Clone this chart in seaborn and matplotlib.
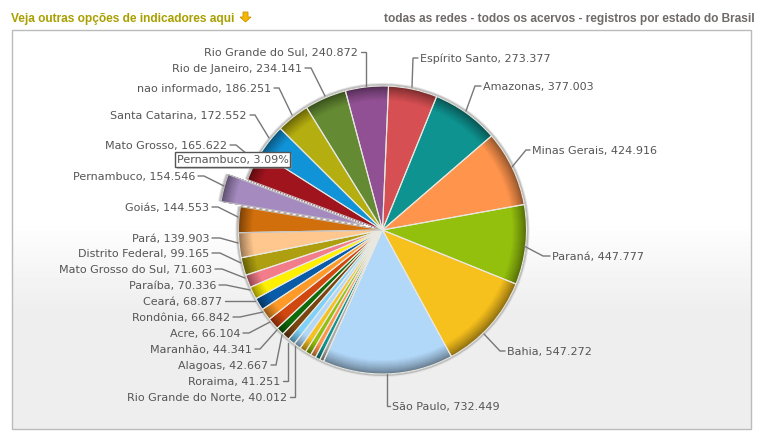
import numpy as np
import seaborn as sns
import matplotlib.pyplot as plt
from matplotlib.colors import to_rgb
from matplotlib.patches import Rectangle, Polygon

# Values, clockwise from the top
# the five thin unlabelled slices are estimates, their names are not in the picture
states = ['Espírito Santo', 'Amazonas', 'Minas Gerais', 'Paraná', 'Bahia', 'São Paulo',
          'sem rótulo 1', 'sem rótulo 2', 'sem rótulo 3', 'sem rótulo 4', 'sem rótulo 5',
          'Rio Grande do Norte', 'Roraima', 'Alagoas', 'Maranhão', 'Acre', 'Rondônia',
          'Ceará', 'Paraíba', 'Mato Grosso do Sul', 'Distrito Federal', 'Pará', 'Goiás',
          'Pernambuco', 'Mato Grosso', 'Santa Catarina', 'nao informado',
          'Rio de Janeiro', 'Rio Grande do Sul']
values = [273377, 377003, 424916, 447777, 547272, 732449,
          23000, 27000, 30000, 33000, 36000,
          40012, 41251, 42667, 44341, 66104, 66842,
          68877, 70336, 71603, 99165, 139903, 144553,
          154546, 165622, 172552, 186251, 234141, 240872]
value_texts = ['273.377', '377.003', '424.916', '447.777', '547.272', '732.449',
               None, None, None, None, None,
               '40.012', '41.251', '42.667', '44.341', '66.104', '66.842',
               '68.877', '70.336', '71.603', '99.165', '139.903', '144.553',
               '154.546', '165.622', '172.552', '186.251', '234.141', '240.872']
colors = ['#D64F52', '#0E9390', '#FF944D', '#93BF0D', '#F6C01D', '#B2D8F9',
          '#A8A8A8', '#0E9390', '#FF944D', '#93BF0D', '#F6C01D',
          '#B2D8F9', '#7CD2FA', '#7A4512', '#0F6B0A', '#D0470F', '#FF9A28',
          '#0B5CA8', '#FFF000', '#F37C8A', '#AE9F10', '#FFC78E', '#D16F0C',
          '#A58ABF', '#A0141E', '#1193D8', '#B5AE10', '#648B33', '#925094']

# Label layout in image pixels: text anchor, then the leader line
leaders = {
    'Espírito Santo': [(418, 59), (413, 59), (412, 88)],
    'Amazonas': [(481, 87), (475, 87), (466, 112)],
    'Minas Gerais': [(530, 151), (526, 151), (512, 168)],
    'Paraná': [(550, 257), (543, 257), (524, 247)],
    'Bahia': [(505, 352), (500, 352), (484, 335)],
    'São Paulo': [(390, 407), (386.5, 407), (386.5, 375)],
    'Rio Grande do Norte': [(290, 398), (295, 398), (295, 347)],
    'Roraima': [(283, 382), (288, 382), (288, 344)],
    'Alagoas': [(271, 366), (276, 366), (282, 336)],
    'Maranhão': [(255, 350), (260, 350), (277, 331)],
    'Acre': [(243, 334), (249, 334), (270, 323)],
    'Rondônia': [(233, 318), (240, 318), (263, 313)],
    'Ceará': [(225, 302), (232, 302), (255, 302)],
    'Paraíba': [(219, 286), (226, 286), (250, 291)],
    'Mato Grosso do Sul': [(215, 270), (222, 270), (245, 279)],
    'Distrito Federal': [(212, 254), (220, 254), (241, 264)],
    'Pará': [(212, 239), (220, 239), (238, 244)],
    'Goiás': [(212, 208), (218, 208), (238, 218)],
    'Pernambuco': [(198, 177), (204, 177), (224, 187)],
    'Mato Grosso': [(230, 146), (236, 146), (247, 155)],
    'Santa Catarina': [(250, 116), (255, 116), (269, 139)],
    'nao informado': [(274, 89), (279, 89), (292, 116)],
    'Rio de Janeiro': [(305, 69), (311, 69), (325, 97)],
    'Rio Grande do Sul': [(361, 53), (366, 53), (366, 87)],
}
right_side = ['Espírito Santo', 'Amazonas', 'Minas Gerais', 'Paraná', 'Bahia', 'São Paulo']

W, H = 764, 439
CX, CY, R = 382.5, 231, 144
EXPLODE_PX = 20
START = 87.6


def flip(y):
    return H - y


def shade(color, k):
    return tuple(c * k for c in to_rgb(color))


sns.set_theme(style='white')
plt.rcParams['font.family'] = ['DejaVu Sans']

fig = plt.figure(figsize=(W / 100, H / 100), dpi=100)
ax = fig.add_axes([0, 0, 1, 1])

# Panel background, white fading to light grey
grad = np.concatenate([np.full(190, 1.0), np.linspace(1.0, 0.933, 90), np.full(119, 0.933)])
ax.imshow(grad[:, None], extent=(11.5, 750.5, flip(429.5), flip(30.5)), cmap='gray',
          vmin=0, vmax=1, aspect='auto', zorder=0)
ax.add_patch(Rectangle((11.5, flip(429.5)), 739, 399, fill=False, ec='#BBBBBB', lw=1, zorder=1))

explode = [EXPLODE_PX if s == 'Pernambuco' else 0 for s in states]

# Soft halo around the pie
for extra, tone in [(3, '#E2E2E2'), (2, '#BDBDBD')]:
    ax.pie(values, colors=[tone] * len(values), startangle=START, counterclock=False,
           center=(CX, flip(CY)), radius=R + extra, explode=explode, frame=True,
           wedgeprops={'zorder': 2, 'linewidth': 0})

# Rim bevel is a stack of pies going from dark at the edge to full colour
for inset in range(15):
    k = 0.55 + 0.45 * (inset / 14) ** 0.8
    wedges, _ = ax.pie(values, colors=[shade(c, k) for c in colors], startangle=START,
                       counterclock=False, center=(CX, flip(CY)), radius=R - inset,
                       explode=explode, frame=True,
                       wedgeprops={'zorder': 3 + inset, 'linewidth': 0.3})
    for w in wedges:
        w.set_edgecolor(w.get_facecolor())

# Light separators over the stack, softer round the pulled-out slice
wedges, _ = ax.pie(values, colors=['#E8E8E0'] * len(values), startangle=START, counterclock=False,
                   center=(CX, flip(CY)), radius=R, explode=explode, frame=True,
                   wedgeprops={'zorder': 19, 'linewidth': 0.8, 'edgecolor': '#E8E8E0', 'fill': False})
for w, s in zip(wedges, states):
    if s in ('Goiás', 'Pernambuco', 'Mato Grosso'):
        w.set_edgecolor('#C4C4C4')

# Labels and leader lines
for state, txt in zip(states, value_texts):
    if txt is None:
        continue
    pts = leaders[state]
    ax.plot([p[0] for p in pts], [flip(p[1]) for p in pts], color='#777777', lw=1, zorder=20,
            solid_joinstyle='miter')
    x, y = pts[0]
    if state in right_side:
        ax.text(x + 2, flip(y), f'{state}, {txt}', ha='left', va='center', fontsize=8,
                color='#555555', zorder=21)
    else:
        ax.text(x - 3, flip(y), f'{state}, {txt}', ha='right', va='center', fontsize=8,
                color='#555555', zorder=21)

# Tooltip
ax.add_patch(Rectangle((177, flip(170)), 115, 15, fc='#999999', ec='none', alpha=0.5, zorder=22))
ax.add_patch(Rectangle((175, flip(168)), 115, 15, fc='white', ec='#555555', lw=1, zorder=23))
ax.text(232.5, flip(160.5), 'Pernambuco, 3.09%', ha='center', va='center', fontsize=8,
        color='#555555', zorder=24)

# Header
ax.text(11, flip(19), 'Veja outras opções de indicadores aqui', family='Liberation Sans', weight='bold',
        fontsize=8.6, color='#A8A000', ha='left', va='center')
ax.text(755, flip(19), 'todas as redes - todos os acervos - registros por estado do Brasil',
        family='Liberation Sans', weight='bold', fontsize=8.58, color='#706A6A', ha='right', va='center')
ax.add_patch(Polygon([(243, flip(13)), (248, flip(13)), (248, flip(18)), (251, flip(18)),
                      (245.5, flip(23)), (240, flip(18)), (243, flip(18))],
                     fc='#F5B800', ec='#D09000', lw=0.6))

ax.set_xlim(0, W)
ax.set_ylim(0, H)
ax.set_aspect('auto')
ax.axis('off')

fig.savefig('out.png', dpi=100)
